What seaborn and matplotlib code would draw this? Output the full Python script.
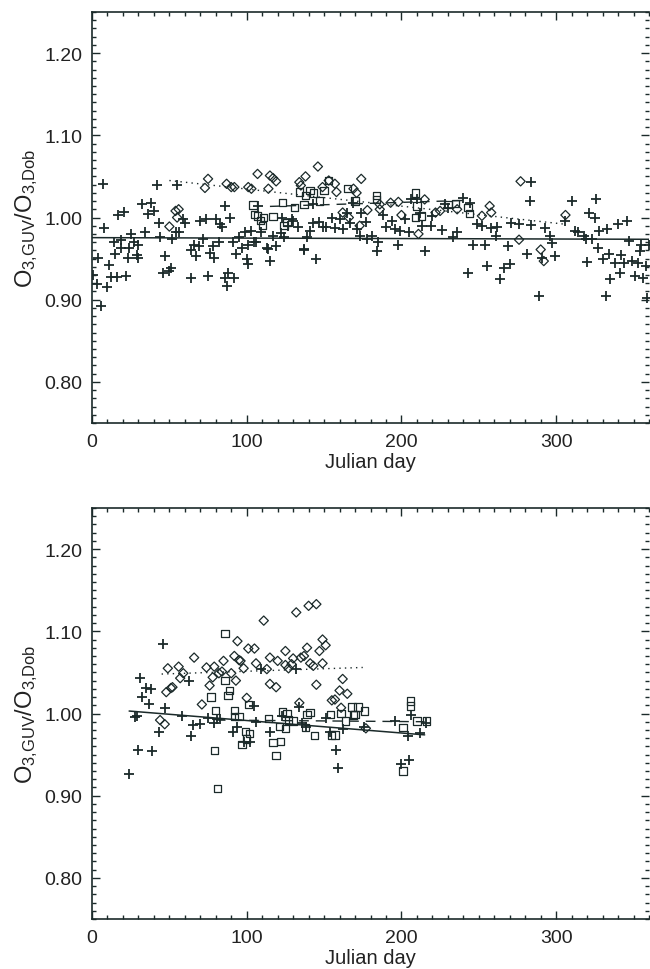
import numpy as np
import matplotlib
matplotlib.use("Agg")
import matplotlib.pyplot as plt
from matplotlib.ticker import MultipleLocator, FormatStrFormatter
import seaborn as sns

# ---- top panel ----
top_plus_day = [0.5, 3, 4, 7, 6, 8, 11, 10, 12, 14, 16, 15, 17, 19, 19, 21, 22, 23, 24, 25,
                27, 29, 30, 30, 32, 34, 36, 38, 40, 42, 43, 44, 46, 47, 50, 51, 52, 54, 55, 56,
                59, 60, 64, 64, 66, 67, 69, 70, 72, 74, 75, 76, 78, 79, 80, 82, 83, 84, 86, 86,
                87, 88, 89, 91, 92, 93, 95, 97, 99, 100, 101, 101, 103, 105, 106, 107, 109, 113, 114, 115,
                117, 119, 122, 123, 124, 127, 129, 130, 133, 137, 137, 139, 141, 143, 143, 145, 147, 149, 151, 155,
                157, 160, 162, 165, 167, 169, 171, 173, 174, 177, 178, 181, 184, 185, 188, 190, 194, 196, 198, 199,
                202, 205, 206, 210, 212, 213, 215, 219, 220, 226, 228, 230, 233, 236, 240, 243, 244, 246, 249, 252,
                254, 255, 258, 261, 262, 264, 266, 269, 270, 271, 276, 281, 283, 284, 284, 289, 291, 293, 296, 297,
                299, 306, 310, 312, 314, 318, 319, 320, 321, 323, 325, 326, 327, 328, 330, 332, 333, 334, 335, 338,
                340, 341, 342, 344, 346, 347, 349, 351, 353, 354, 355, 356, 358, 359, 360]
top_plus_ratio = [0.930, 0.919, 0.951, 1.041, 0.892, 0.987, 0.942, 0.916, 0.928, 0.970, 0.928, 0.955, 1.003, 0.963, 0.973, 1.007, 0.929, 0.951, 0.963, 0.980,
                  0.970, 0.954, 0.966, 0.951, 1.016, 0.982, 1.004, 1.018, 1.008, 1.039, 0.993, 0.976, 0.933, 0.953, 0.935, 0.939, 0.974, 0.982, 1.039, 0.982,
                  0.998, 0.993, 0.961, 0.927, 0.967, 0.953, 0.965, 0.996, 0.974, 0.998, 0.929, 0.957, 0.965, 0.951, 0.998, 0.970, 0.992, 0.988, 1.014, 0.927,
                  0.917, 0.933, 1.000, 0.970, 0.927, 0.955, 0.976, 0.963, 0.982, 0.949, 0.944, 0.967, 0.984, 0.970, 0.970, 1.014, 0.982, 0.963, 0.962, 0.947,
                  0.978, 0.965, 0.981, 1.000, 0.976, 0.990, 0.998, 0.996, 0.988, 0.962, 0.961, 0.976, 0.984, 0.993, 1.016, 0.949, 0.994, 0.988, 0.988, 1.000,
                  0.987, 0.998, 0.986, 1.006, 0.993, 1.018, 0.986, 0.977, 1.006, 0.994, 0.974, 0.977, 0.959, 0.970, 1.003, 0.988, 0.996, 0.986, 0.966, 0.984,
                  0.998, 0.982, 1.022, 1.023, 1.006, 0.990, 0.959, 0.990, 1.002, 0.985, 1.016, 1.012, 0.976, 0.982, 1.024, 0.932, 1.018, 0.967, 0.992, 0.990,
                  0.967, 0.941, 0.987, 0.978, 0.988, 0.925, 0.939, 0.965, 0.943, 0.993, 0.992, 0.955, 1.020, 1.043, 0.991, 0.904, 0.951, 0.987, 0.978, 0.969,
                  0.953, 0.996, 1.020, 0.984, 0.982, 0.978, 0.974, 0.946, 1.006, 0.974, 1.000, 1.022, 0.963, 0.984, 0.949, 0.905, 0.986, 0.955, 0.925, 0.945,
                  0.992, 0.933, 0.954, 0.945, 0.996, 0.972, 0.947, 0.929, 0.945, 0.959, 0.966, 0.927, 0.941, 0.902, 0.967]

top_diam_day = [50, 54, 55, 56, 73, 75, 87, 90, 92, 101, 103, 107, 114, 115, 117, 119, 134, 135, 138, 146,
                149, 153, 157, 158, 162, 166, 169, 171, 173, 174, 178, 186, 186, 193, 198, 200, 211, 215, 222, 225,
                236, 252, 257, 258, 276, 277, 290, 292, 306]
top_diam_ratio = [0.989, 1.008, 1.000, 1.010, 1.036, 1.047, 1.041, 1.037, 1.037, 1.037, 1.035, 1.053, 1.035, 1.051, 1.048, 1.044, 1.043, 1.039, 1.050, 1.062,
                  1.037, 1.045, 1.041, 1.031, 1.006, 1.000, 1.035, 1.030, 0.990, 1.047, 1.009, 1.016, 1.010, 1.018, 1.019, 1.003, 0.980, 1.022, 1.006, 1.008,
                  1.010, 1.002, 1.014, 1.006, 0.973, 1.044, 0.961, 0.947, 1.003]

top_sq_day = [104, 105, 107, 109, 110, 111, 117, 123, 124, 126, 131, 134, 137, 138, 141, 143, 147, 150, 153, 165,
              170, 184, 184, 209, 209, 210, 213, 230, 235, 243, 244]
top_sq_ratio = [1.015, 1.004, 1.002, 0.996, 0.990, 1.000, 1.001, 1.018, 0.990, 0.994, 1.012, 1.031, 1.016, 1.027, 1.033, 1.030, 1.020, 1.033, 1.045, 1.035,
                1.020, 1.027, 1.022, 1.030, 1.000, 1.014, 1.002, 1.016, 1.017, 1.012, 1.005]

top_solid_day = [0, 360]
top_solid_ratio = [0.9755, 0.9735]
top_dotted_day = [50, 305]
top_dotted_ratio = [1.045, 0.992]
top_dashed_day = [115, 245]
top_dashed_ratio = [1.0135, 1.021]

# ---- bottom panel ----
bot_plus_day = [24, 28, 29, 31, 30, 32, 35, 37, 38, 39, 43, 46, 47, 58, 63, 64, 65, 70, 75, 79,
                81, 83, 91, 94, 98, 102, 105, 106, 109, 115, 123, 132, 134, 136, 138, 151, 154, 158, 159, 162,
                176, 196, 200, 204, 205, 206, 212, 216]
bot_plus_ratio = [0.927, 0.996, 0.997, 1.043, 0.955, 1.020, 1.031, 1.011, 1.030, 0.954, 0.978, 1.085, 1.007, 0.997, 1.040, 0.973, 0.986, 0.987, 0.995, 0.989,
                  0.993, 0.993, 0.977, 0.984, 0.965, 0.965, 1.009, 0.990, 1.054, 0.977, 0.997, 1.054, 1.008, 0.989, 0.984, 0.994, 0.977, 0.955, 0.934, 0.981,
                  0.983, 0.991, 0.939, 0.973, 0.943, 0.998, 0.976, 0.989]

bot_diam_day = [44, 47, 49, 48, 51, 52, 56, 57, 59, 66, 71, 74, 76, 78, 79, 82, 84, 85, 90, 92,
                93, 94, 95, 96, 98, 100, 101, 105, 106, 111, 113, 115, 115, 119, 120, 125, 125, 127, 129, 130,
                132, 134, 135, 137, 140, 139, 141, 143, 145, 145, 147, 149, 149, 151, 155, 157, 160, 162, 165, 161,
                177]
bot_diam_ratio = [0.992, 0.987, 1.055, 1.026, 1.031, 1.032, 1.057, 1.043, 1.049, 1.068, 1.011, 1.056, 1.034, 1.044, 1.057, 1.049, 1.051, 1.064, 1.049, 1.070,
                  1.040, 1.088, 1.065, 1.064, 1.055, 1.019, 1.079, 1.079, 1.061, 1.113, 1.054, 1.036, 1.068, 1.032, 1.064, 1.059, 1.076, 1.055, 1.060, 1.067,
                  1.123, 1.013, 1.068, 1.070, 1.131, 1.080, 1.061, 1.058, 1.133, 1.035, 1.076, 1.061, 1.090, 1.083, 1.016, 1.017, 1.028, 1.042, 1.024, 1.007,
                  0.982]

bot_sq_day = [77, 80, 79, 81, 86, 86, 88, 89, 92, 92, 95, 97, 99, 100, 101, 102, 114, 117, 119, 121,
              122, 123, 125, 126, 127, 130, 138, 139, 141, 144, 154, 155, 157, 161, 164, 168, 169, 170, 172, 176,
              201, 201, 206, 206, 210, 216]
bot_sq_ratio = [1.020, 1.004, 0.955, 0.909, 1.097, 1.040, 1.022, 1.028, 1.004, 0.996, 0.996, 0.962, 0.978, 0.969, 1.011, 0.976, 0.994, 0.965, 0.949, 0.984,
                0.966, 1.002, 0.982, 1.000, 0.992, 0.991, 0.983, 0.999, 1.001, 0.973, 0.999, 0.974, 0.974, 1.000, 0.991, 1.008, 0.998, 0.999, 1.008, 1.003,
                0.983, 0.930, 1.015, 1.009, 0.991, 0.991]

bot_solid_day = [24, 215]
bot_solid_ratio = [1.003, 0.974]
bot_dotted_day = [45, 175]
bot_dotted_ratio = [1.048, 1.056]
bot_dashed_day = [80, 215]
bot_dashed_ratio = [0.992, 0.990]

ink = "#1b2a2a"

sns.set_theme(style="ticks")
plt.rcParams["font.family"] = ["Liberation Sans", "DejaVu Sans"]
plt.rcParams["mathtext.default"] = "regular"

fig = plt.figure(figsize=(6.5, 9.7), dpi=100)
ax_top = fig.add_axes([92 / 650, 1 - 424 / 970, 557 / 650, 411 / 970])
ax_bot = fig.add_axes([92 / 650, 1 - 920 / 970, 557 / 650, 411 / 970])


def draw_panel(ax, plus, diam, sq, solid, dotted, dashed):
    sns.scatterplot(x=plus[0], y=plus[1], ax=ax, marker="+", s=42, color=ink, linewidth=1.3, zorder=3)
    sns.scatterplot(x=diam[0], y=diam[1], ax=ax, marker="D", s=22, facecolor="none", edgecolor=ink,
                    linewidth=0.9, zorder=3)
    sns.scatterplot(x=sq[0], y=sq[1], ax=ax, marker="s", s=28, facecolor="none", edgecolor=ink,
                    linewidth=0.9, zorder=3)
    sns.lineplot(x=solid[0], y=solid[1], ax=ax, color=ink, linewidth=1.1)
    sns.lineplot(x=dotted[0], y=dotted[1], ax=ax, color=ink, linewidth=1.0, linestyle=(0, (1, 3)))
    sns.lineplot(x=dashed[0], y=dashed[1], ax=ax, color=ink, linewidth=1.0, linestyle=(0, (7, 5)))

    ax.set_xlim(0, 360)
    ax.set_ylim(0.75, 1.25)
    ax.xaxis.set_major_locator(MultipleLocator(100))
    ax.xaxis.set_minor_locator(MultipleLocator(10))
    ax.yaxis.set_minor_locator(MultipleLocator(0.01))
    ax.set_yticks([0.8, 0.9, 1.0, 1.1, 1.2])
    ax.yaxis.set_major_formatter(FormatStrFormatter("%.2f"))
    ax.tick_params(which="both", direction="in", top=True, right=True, color=ink, width=1.0)
    ax.tick_params(which="major", length=6, labelsize=14, pad=7, labelcolor="#222222")
    ax.tick_params(which="minor", length=3.2)
    for sp in ax.spines.values():
        sp.set_color(ink)
        sp.set_linewidth(1.2)
    ax.spines["right"].set_visible(False)
    ax.set_xlabel("Julian day", fontsize=14.5, color="#222222", labelpad=2)
    ax.set_ylabel(r"O$_{3{,}GUV}$/O$_{3{,}Dob}$", fontsize=17, color="#222222", labelpad=3)


draw_panel(ax_top,
           (top_plus_day, top_plus_ratio), (top_diam_day, top_diam_ratio), (top_sq_day, top_sq_ratio),
           (top_solid_day, top_solid_ratio), (top_dotted_day, top_dotted_ratio), (top_dashed_day, top_dashed_ratio))
draw_panel(ax_bot,
           (bot_plus_day, bot_plus_ratio), (bot_diam_day, bot_diam_ratio), (bot_sq_day, bot_sq_ratio),
           (bot_solid_day, bot_solid_ratio), (bot_dotted_day, bot_dotted_ratio), (bot_dashed_day, bot_dashed_ratio))

fig.savefig("out.png", dpi=100)
